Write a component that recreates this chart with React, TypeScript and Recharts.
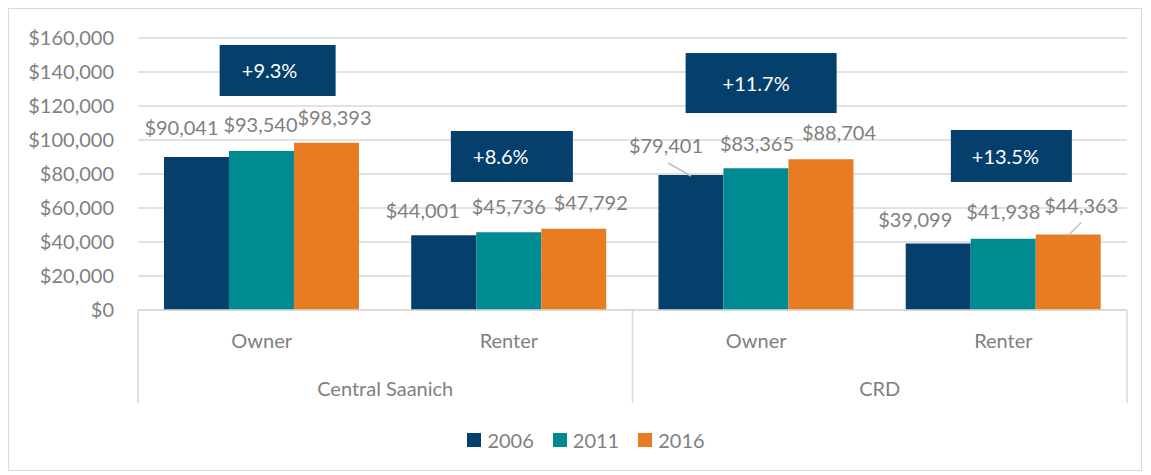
import React from "react";
import {
  BarChart,
  Bar,
  XAxis,
  YAxis,
  CartesianGrid,
  Legend,
  LabelList,
  ReferenceDot,
} from "recharts";

// categories (two-level axis: tenure inside region)
const categoryKeys = ["cs-owner", "cs-renter", "crd-owner", "crd-renter"];
const tenures = ["Owner", "Renter", "Owner", "Renter"];
const regions = ["Central Saanich", "Central Saanich", "CRD", "CRD"];

// median household income by year
const income2006 = [90041, 44001, 79401, 39099];
const income2011 = [93540, 45736, 83365, 41938];
const income2016 = [98393, 47792, 88704, 44363];

// 2006 -> 2016 change, shown in the navy call-out boxes
const growthLabels = ["+9.3%", "+8.6%", "+11.7%", "+13.5%"];

const yTicks = [0, 20000, 40000, 60000, 80000, 100000, 120000, 140000, 160000];

const NAVY = "#053F6B";
const TEAL = "#008A91";
const ORANGE = "#E87C22";
const GREY_TEXT = "#7f7f7f";
const GRID = "#d9d9d9";
const FONT = "Lato, 'Open Sans', sans-serif";

const data = categoryKeys.map((key, i) => ({
  key,
  tenure: tenures[i],
  region: regions[i],
  y2006: income2006[i],
  y2011: income2011[i],
  y2016: income2016[i],
}));

// hand-moved data labels (as in the original Excel chart), relative to bar top centre
const labelNudge: Record<string, { dx: number; dy: number; leader?: boolean }[]> = {
  y2006: [
    { dx: -15, dy: -29 },
    { dx: -21, dy: -24 },
    { dx: -25, dy: -29, leader: true },
    { dx: -23, dy: -24 },
  ],
  y2011: [
    { dx: -1, dy: -26 },
    { dx: 0, dy: -25 },
    { dx: 1, dy: -24 },
    { dx: 0, dy: -27 },
  ],
  y2016: [
    { dx: 8, dy: -25 },
    { dx: 17, dy: -26 },
    { dx: 18, dy: -26 },
    { dx: 13, dy: -29, leader: true },
  ],
};

// call-out box placement: centre value on the y scale, size, offset from group centre
const boxLayout = [
  { yValue: 140900, w: 116, h: 51, dx: 16, textDx: -8 },
  { yValue: 90300, w: 122, h: 51, dx: 3, textDx: -11 },
  { yValue: 133500, w: 151, h: 60, dx: 5, textDx: -5 },
  { yValue: 90600, w: 121, h: 52, dx: 8, textDx: -6 },
];

const fmtMoney = (v: number) => "$" + Number(v).toLocaleString("en-US");

function makeLabel(seriesKey: string) {
  return (props: any) => {
    const { x, y, width, value, index } = props;
    const n = labelNudge[seriesKey][index] || { dx: 0, dy: -14 };
    const cx = Number(x) + Number(width) / 2;
    const top = Number(y);
    const lx = cx + n.dx;
    const ly = top + n.dy;
    return (
      <g>
        {n.leader && (
          <line
            x1={lx + (n.dx < 0 ? 2 : 0)}
            y1={ly + 17}
            x2={cx}
            y2={top + 1}
            stroke="#bfbfbf"
            strokeWidth={1.5}
          />
        )}
        <text
          x={lx}
          y={ly + 7}
          textAnchor="middle"
          fill={GREY_TEXT}
          fontSize={20}
          fontFamily={FONT}
        >
          {fmtMoney(value)}
        </text>
      </g>
    );
  };
}

const AXIS1_HEIGHT = 50;

function RegionTick(props: any) {
  const { x, y, payload, index } = props;
  const half = payload && payload.offset ? payload.offset : 123.6;
  const top = y - AXIS1_HEIGHT;
  const bottom = y + 43;
  const first = index % 2 === 0;
  return (
    <g>
      {first && (
        <line x1={x - half} y1={top} x2={x - half} y2={bottom} stroke={GRID} strokeWidth={1.5} />
      )}
      {index === categoryKeys.length - 1 && (
        <line x1={x + half} y1={top} x2={x + half} y2={bottom} stroke={GRID} strokeWidth={1.5} />
      )}
      {first && (
        <text
          x={x + half}
          y={y + 36}
          textAnchor="middle"
          fill={GREY_TEXT}
          fontSize={20}
          fontFamily={FONT}
        >
          {regions[index]}
        </text>
      )}
    </g>
  );
}

function LegendContent() {
  const items = [
    { name: "2006", color: NAVY },
    { name: "2011", color: TEAL },
    { name: "2016", color: ORANGE },
  ];
  return (
    <div
      style={{
        height: 30,
        display: "flex",
        justifyContent: "center",
        alignItems: "center",
        paddingLeft: 36,
        fontFamily: FONT,
        fontSize: 20,
        color: GREY_TEXT,
      }}
    >
      {items.map((it, i) => (
        <span
          key={it.name}
          style={{ display: "flex", alignItems: "center", marginLeft: i === 0 ? 0 : 19 }}
        >
          <span style={{ width: 14, height: 14, background: it.color, marginRight: 6 }} />
          {it.name}
        </span>
      ))}
    </div>
  );
}

export default function App() {
  return (
    <div
      style={{
        width: 1132,
        height: 461,
        border: "1px solid #d9d9d9",
        background: "#fff",
        fontFamily: FONT,
      }}
    >
      <BarChart
        width={1132}
        height={461}
        data={data}
        margin={{ top: 29, right: 14, left: 0, bottom: 15 }}
        barCategoryGap="10.5%"
        barGap={0}
      >
        <CartesianGrid vertical={false} stroke={GRID} strokeWidth={1.5} />
        <XAxis
          dataKey="key"
          height={AXIS1_HEIGHT}
          interval={0}
          tickLine={false}
          tickSize={0}
          tickMargin={24}
          axisLine={{ stroke: GRID, strokeWidth: 1.5 }}
          tickFormatter={(v: string) => tenures[categoryKeys.indexOf(v)]}
          tick={{ fill: GREY_TEXT, fontSize: 20, fontFamily: FONT }}
        />
        <XAxis
          xAxisId="region"
          dataKey="key"
          height={65}
          interval={0}
          tickLine={false}
          tickSize={0}
          tickMargin={0}
          axisLine={false}
          tick={<RegionTick />}
        />
        <YAxis
          width={129}
          domain={[0, 160000]}
          ticks={yTicks}
          interval={0}
          tickLine={false}
          axisLine={false}
          tickSize={0}
          tickMargin={24}
          tickFormatter={fmtMoney}
          tick={{ fill: GREY_TEXT, fontSize: 20, fontFamily: FONT }}
        />
        <Legend verticalAlign="bottom" content={<LegendContent />} />
        <Bar dataKey="y2006" name="2006" fill={NAVY} isAnimationActive={false}>
          <LabelList dataKey="y2006" content={makeLabel("y2006")} />
        </Bar>
        <Bar dataKey="y2011" name="2011" fill={TEAL} isAnimationActive={false}>
          <LabelList dataKey="y2011" content={makeLabel("y2011")} />
        </Bar>
        <Bar dataKey="y2016" name="2016" fill={ORANGE} isAnimationActive={false}>
          <LabelList dataKey="y2016" content={makeLabel("y2016")} />
        </Bar>
        {categoryKeys.map((k, i) => {
          const b = boxLayout[i];
          return (
            <ReferenceDot
              key={k}
              x={k}
              y={b.yValue}
              r={1}
              ifOverflow="visible"
              shape={(p: any) => (
                <g>
                  <rect
                    x={p.cx + b.dx - b.w / 2}
                    y={p.cy - b.h / 2}
                    width={b.w}
                    height={b.h}
                    fill={NAVY}
                  />
                  <text
                    x={p.cx + b.dx + b.textDx}
                    y={p.cy + 8}
                    textAnchor="middle"
                    fill="#ffffff"
                    fontSize={20}
                    fontFamily={FONT}
                  >
                    {growthLabels[i]}
                  </text>
                </g>
              )}
            />
          );
        })}
      </BarChart>
    </div>
  );
}
